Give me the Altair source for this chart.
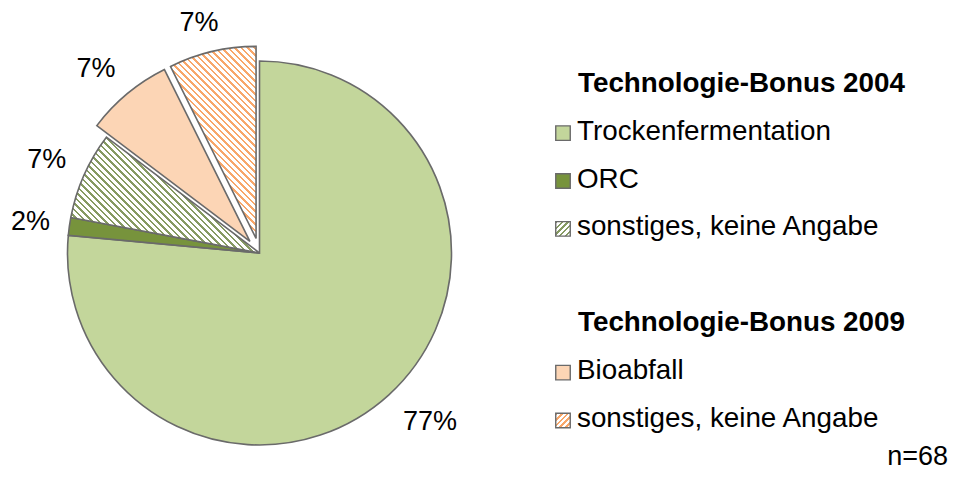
import math
import altair as alt
import pandas as pd

# ---------------- data ----------------
slice_keys = ["trocken", "orc", "sonst2004", "bio", "sonst2009"]
slice_names = ["Trockenfermentation", "ORC", "sonstiges, keine Angabe",
               "Bioabfall", "sonstiges, keine Angabe"]
slice_groups = ["Technologie-Bonus 2004", "Technologie-Bonus 2004", "Technologie-Bonus 2004",
                "Technologie-Bonus 2009", "Technologie-Bonus 2009"]
shares = [76.5, 1.5, 7.35, 7.35, 7.35]      # percent
exploded_keys = ["bio", "sonst2009"]
group_titles = ["Technologie-Bonus 2004", "Technologie-Bonus 2009"]
n_total = [68]

# ---------------- style ----------------
FONT = "Liberation Sans"
W, H = 944, 463
CX, CY, R = 251.5, 245.0, 192.0
EXPLODE = 15
EDGE = "#6a6a6a"
SOLID_COLORS = {"trocken": "#c3d69b", "orc": "#77933c", "bio": "#fcd5b5"}
HATCH_COLORS = {"sonst2004": "#869a62", "sonst2009": "#f8a76a"}
LABEL_R = 213
LABEL_FS = 27
LEG_FS = 27.8

total = sum(shares)
ends = list(pd.Series(shares).cumsum())
starts = [e - s for e, s in zip(ends, shares)]

df = pd.DataFrame({"key": slice_keys, "name": slice_names, "group": slice_groups,
                   "value": shares, "start": starts, "end": ends})


def wedge_bbox(f0, f1, r):
    a0, a1 = 2 * math.pi * f0 / total, 2 * math.pi * f1 / total
    pts = [(0.0, 0.0), (r * math.sin(a0), -r * math.cos(a0)), (r * math.sin(a1), -r * math.cos(a1))]
    for k in range(9):
        a = k * math.pi / 2
        if a0 < a < a1:
            pts.append((r * math.sin(a), -r * math.cos(a)))
    xs = [p[0] for p in pts]
    ys = [p[1] for p in pts]
    return max(xs) - min(xs), max(ys) - min(ys)


def hatch(fg, w, h, period=4.6, frac=0.38, back=False, gid="g"):
    a = (w + h) / (w * w + h * h)
    if back:   # "\" stripes
        p = dict(x1=0, y1=1, x2=a * w, y2=1 - a * h)
    else:      # "/" stripes
        p = dict(x1=0, y1=0, x2=a * w, y2=a * h)
    d = (w + h) / math.sqrt(2)
    stops = []
    k = 0.0
    while k < d:
        o0 = k / d
        o1 = min((k + frac * period) / d, 1)
        o2 = min((k + period) / d, 1)
        stops += [{"offset": o0, "color": fg}, {"offset": o1, "color": fg},
                  {"offset": o1, "color": "#ffffff"}, {"offset": o2, "color": "#ffffff"}]
        k += period
    g = {"gradient": "linear", "stops": stops, "id": gid}
    g.update(p)
    return g


base = alt.Chart(df).transform_calculate(
    mid=f"PI * (datum.start + datum.end) / {total}",
    ex=f"indexof({exploded_keys!r}, datum.key) >= 0 ? {EXPLODE} : 0",
).transform_calculate(
    cx=f"{CX} + datum.ex * sin(datum.mid)",
    cy=f"{CY} - datum.ex * cos(datum.mid)",
)

arc_enc = dict(
    theta=alt.Theta("start:Q", scale=alt.Scale(domain=[0, total])),
    theta2="end:Q",
    x=alt.X("cx:Q", scale=None),
    y=alt.Y("cy:Q", scale=None),
)

solid_keys = list(SOLID_COLORS.keys())
color_scale = alt.Scale(domain=solid_keys, range=[SOLID_COLORS[k] for k in solid_keys])

layers = []
layers.append(
    base.transform_filter(alt.FieldOneOfPredicate(field="key", oneOf=solid_keys))
    .mark_arc(radius=R, stroke=EDGE, strokeWidth=1.6)
    .encode(fill=alt.Fill("key:N", scale=color_scale, legend=None), **arc_enc)
)
for key, fg in HATCH_COLORS.items():
    i = slice_keys.index(key)
    bw, bh = wedge_bbox(starts[i], ends[i], R)
    layers.append(
        base.transform_filter(alt.datum.key == key)
        .mark_arc(radius=R, stroke=EDGE, strokeWidth=1.6,
                  fill=hatch(fg, bw, bh, back=True, gid=f"pie_{key}"))
        .encode(**arc_enc)
    )

# percentage labels
layers.append(
    base.transform_calculate(
        pct="format(datum.value, '.0f') + '%'",
    ).transform_calculate(
        ax=f"datum.cx + {LABEL_R} * sin(datum.mid)",
        ay=f"datum.cy - {LABEL_R} * cos(datum.mid)",
        hw="length(datum.pct) * 9",
    ).transform_calculate(
        lx="datum.ax + datum.hw * clamp(2 * sin(datum.mid), -1, 1)",
        ly="datum.ay - 10 * clamp(2 * cos(datum.mid), -1, 1)",
    ).mark_text(font=FONT, fontSize=LABEL_FS, color="#000000", align="center",
                baseline="alphabetic", dy=9.7)
    .encode(x=alt.X("lx:Q", scale=None), y=alt.Y("ly:Q", scale=None), text="pct:N")
)

# ---------------- legend ----------------
rows = []
row = 0
for g in group_titles:
    rows.append({"text": g, "row": row, "kind": "title", "key": ""})
    row += 1
    for k, nm, gg in zip(slice_keys, slice_names, slice_groups):
        if gg == g:
            rows.append({"text": nm, "row": row, "kind": "item", "key": k})
            row += 1
    row += 1
leg = pd.DataFrame(rows)

LEG_Y0, LEG_STEP = 83.7, 47.9
leg_base = alt.Chart(leg).transform_calculate(ly=f"{LEG_Y0} + {LEG_STEP} * datum.row")

layers.append(
    leg_base.transform_filter(alt.datum.kind == "title")
    .mark_text(font=FONT, fontSize=LEG_FS, fontWeight="bold", align="left",
               baseline="alphabetic", color="#000000")
    .encode(x=alt.value(570), y=alt.Y("ly:Q", scale=None), text="text:N")
)
layers.append(
    leg_base.transform_filter(alt.datum.kind == "item")
    .mark_text(font=FONT, fontSize=LEG_FS, align="left", baseline="alphabetic", color="#000000")
    .encode(x=alt.value(569), y=alt.Y("ly:Q", scale=None), text="text:N")
)
SW = 14.5
layers.append(
    leg_base.transform_filter(alt.FieldOneOfPredicate(field="key", oneOf=solid_keys))
    .mark_square(size=SW * SW, opacity=1, stroke=EDGE, strokeWidth=1.4, yOffset=-6.5)
    .encode(x=alt.value(555), y=alt.Y("ly:Q", scale=None),
            fill=alt.Fill("key:N", scale=color_scale, legend=None))
)
for key, fg in HATCH_COLORS.items():
    layers.append(
        leg_base.transform_filter(alt.datum.key == key)
        .mark_square(size=SW * SW, opacity=1, stroke=EDGE, strokeWidth=1.4, yOffset=-6.5,
                     fill=hatch(fg, SW, SW, period=4.0, frac=0.45, back=False, gid=f"leg_{key}"))
        .encode(x=alt.value(555), y=alt.Y("ly:Q", scale=None))
    )

# n = 68
layers.append(
    alt.Chart(pd.DataFrame({"n": n_total}))
    .transform_calculate(label="'n=' + datum.n")
    .mark_text(font=FONT, fontSize=27, align="right", baseline="alphabetic", color="#000000")
    .encode(x=alt.value(W - 4), y=alt.value(457), text="label:N")
)

chart = alt.layer(*layers).properties(
    width=W, height=H, padding=0,
    autosize=alt.AutoSizeParams(type="none"),
    background="#ffffff",
).configure_view(stroke=None)

chart.save("out.html", embed_options={"renderer": "svg", "actions": False})
